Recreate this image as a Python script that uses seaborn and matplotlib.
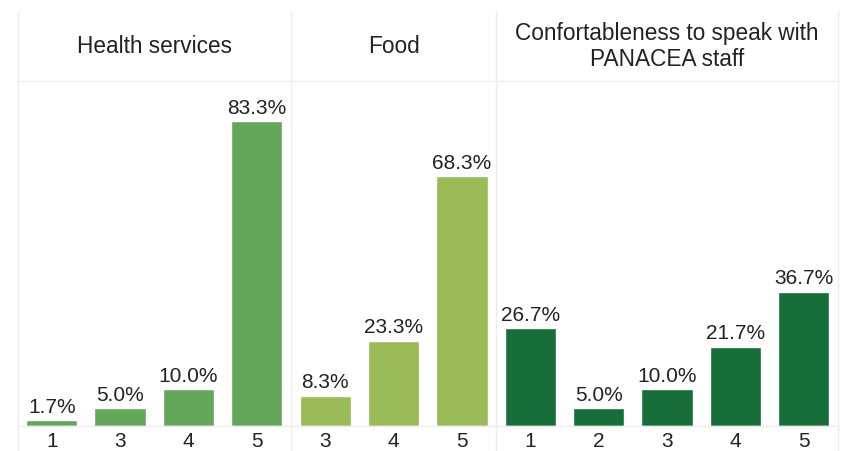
import matplotlib
matplotlib.use("Agg")
import matplotlib.pyplot as plt
from matplotlib.lines import Line2D
import seaborn as sns
import pandas as pd

# Satisfaction scores (share of respondents, %) per topic
health_scores = ["1", "3", "4", "5"]
health_values = [1.7, 5.0, 10.0, 83.3]

food_scores = ["3", "4", "5"]
food_values = [8.3, 23.3, 68.3]

comfort_scores = ["1", "2", "3", "4", "5"]
comfort_values = [26.7, 5.0, 10.0, 21.7, 36.7]

panel_titles = ["Health services", "Food", "Confortableness to speak with\nPANACEA staff"]
panel_colors = ["#64A65A", "#9BBB59", "#176E39"]

sns.set_theme(style="white")
plt.rcParams["font.family"] = ["Liberation Sans", "DejaVu Sans"]

W, H = 846, 452
fig = plt.figure(figsize=(W / 100, H / 100), dpi=100)

left_px, right_px = 17.5, 838.0
top_px, base_px = 82.0, 427.0
slot = (right_px - left_px) / 12.0
grid_color = "#EDEDED"
text_color = "#222222"

panels = [
    (health_scores, health_values),
    (food_scores, food_values),
    (comfort_scores, comfort_values),
]

x0 = left_px
edges = [x0]
for (scores, values), title, color in zip(panels, panel_titles, panel_colors):
    w = slot * len(scores)
    ax = fig.add_axes([x0 / W, 1 - base_px / H, w / W, (base_px - top_px) / H])
    df = pd.DataFrame({"score": scores, "share": values})
    sns.barplot(data=df, x="score", y="share", order=scores, color=color,
                saturation=1, width=0.75, ax=ax)
    ax.set_ylim(0, 94.2)
    ax.set_xlim(-0.5, len(scores) - 0.5)
    ax.set_xlabel("")
    ax.set_ylabel("")
    ax.set_yticks([])
    ax.tick_params(axis="x", length=0, pad=3.5, labelsize=15, labelcolor=text_color)
    for s in ["left", "right"]:
        ax.spines[s].set_visible(False)
    for s in ["top", "bottom"]:
        ax.spines[s].set_visible(True)
        ax.spines[s].set_color(grid_color)
        ax.spines[s].set_linewidth(1.0)
    ax.bar_label(ax.containers[0], labels=[f"{v:.1f}%" for v in values],
                 padding=3, fontsize=15, color=text_color)
    # panel header
    cx = (x0 + w / 2) / W
    fig.text(cx, 1 - 46.5 / H, title, ha="center", va="center",
             fontsize=16.3, color=text_color, linespacing=1.12)
    x0 += w
    edges.append(x0)

# vertical separators between panels
for e in edges:
    fig.add_artist(Line2D([e / W, e / W], [0, 1 - 12 / H], color=grid_color,
                          linewidth=1.0, transform=fig.transFigure))

fig.savefig("out.png", dpi=100, facecolor="white")
